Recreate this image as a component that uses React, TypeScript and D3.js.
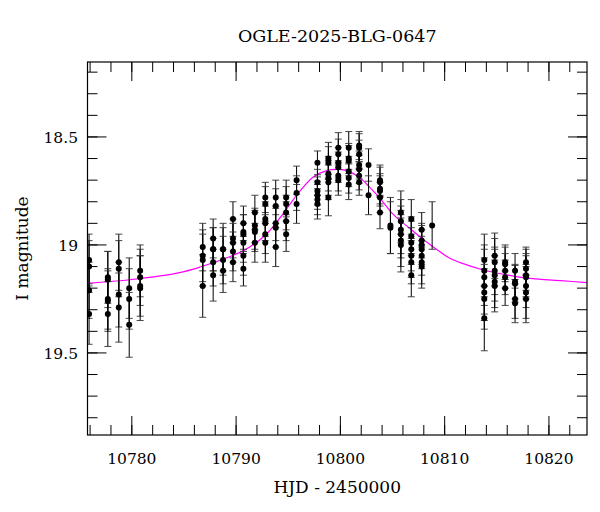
import React from "react";
import * as d3 from "d3";

// nights of observation (HJD - 2450000) and the points taken each night
const nightHJD = [
  10775.9, 10777.7, 10778.75, 10779.75, 10780.8, 10786.8, 10787.8, 10788.75,
  10789.7, 10790.7, 10791.8, 10792.8, 10793.8, 10794.8, 10795.8, 10797.8,
  10798.85, 10799.8, 10800.8, 10801.8, 10802.7, 10803.8, 10804.8, 10805.8,
  10806.8, 10807.8, 10808.8, 10813.8, 10814.8, 10815.8, 10816.75, 10817.8,
];

const nightMag = [
  [19.07, 19.1, 19.21, 19.32],
  [19.15, 19.16, 19.25, 19.26, 19.32],
  [19.08, 19.11, 19.23, 19.29],
  [19.2, 19.25, 19.37],
  [19.12, 19.15, 19.19, 19.2],
  [19.01, 19.05, 19.07, 19.19],
  [18.97, 19.02, 19.02, 19.08, 19.14],
  [19.02, 19.02, 19.07, 19.12],
  [18.88, 18.97, 18.99, 19.03, 19.08],
  [18.9, 18.94, 18.95, 18.99, 19.05, 19.11],
  [18.85, 18.91, 18.93, 18.94, 18.99],
  [18.78, 18.81, 18.88, 18.9, 18.95, 18.99],
  [18.78, 18.82, 18.9, 18.92, 19.01],
  [18.78, 18.81, 18.85, 18.89, 18.95],
  [18.7, 18.76, 18.81],
  [18.62, 18.71, 18.75, 18.77, 18.79, 18.81],
  [18.6, 18.62, 18.67, 18.69, 18.71, 18.78],
  [18.55, 18.58, 18.62, 18.64, 18.68, 18.7],
  [18.55, 18.6, 18.61, 18.66, 18.69, 18.72],
  [18.54, 18.55, 18.58, 18.63, 18.65, 18.68, 18.71],
  [18.63, 18.77],
  [18.7, 18.71, 18.74, 18.75, 18.78, 18.85],
  [18.91, 18.92],
  [18.85, 18.89, 18.93, 18.95, 18.98, 19.0],
  [18.88, 18.96, 18.99, 19.02, 19.05, 19.08, 19.14],
  [18.93, 18.98, 19.0, 19.02, 19.05, 19.08, 19.1],
  [18.91],
  [19.07, 19.12, 19.15, 19.19, 19.22, 19.25, 19.34],
  [19.05, 19.08, 19.12, 19.14, 19.17, 19.19],
  [19.08, 19.09, 19.12, 19.15, 19.2],
  [19.12, 19.17, 19.18, 19.25, 19.27],
  [19.08, 19.11, 19.14, 19.15, 19.19, 19.22, 19.25],
];

const nightErr = [
  [0.12, 0.12, 0.13, 0.14],
  [0.12, 0.13, 0.14, 0.14, 0.15],
  [0.13, 0.13, 0.15, 0.16],
  [0.14, 0.14, 0.15],
  [0.12, 0.13, 0.14, 0.15],
  [0.11, 0.12, 0.12, 0.145],
  [0.09, 0.1, 0.1, 0.11, 0.12],
  [0.12, 0.1, 0.11, 0.1],
  [0.08, 0.09, 0.09, 0.09, 0.09],
  [0.08, 0.08, 0.09, 0.09, 0.09, 0.08],
  [0.08, 0.08, 0.09, 0.09, 0.09],
  [0.07, 0.08, 0.08, 0.08, 0.09, 0.09],
  [0.08, 0.08, 0.08, 0.09, 0.09],
  [0.08, 0.08, 0.08, 0.09, 0.08],
  [0.065, 0.08, 0.09],
  [0.055, 0.06, 0.065, 0.065, 0.07, 0.07],
  [0.075, 0.075, 0.08, 0.08, 0.08, 0.085],
  [0.07, 0.07, 0.07, 0.07, 0.07, 0.07],
  [0.075, 0.07, 0.07, 0.07, 0.07, 0.07],
  [0.065, 0.065, 0.065, 0.065, 0.065, 0.065, 0.06],
  [0.075, 0.09],
  [0.07, 0.07, 0.07, 0.07, 0.07, 0.075],
  [0.13, 0.12],
  [0.1, 0.1, 0.11, 0.11, 0.12, 0.125],
  [0.09, 0.09, 0.1, 0.1, 0.1, 0.1, 0.1],
  [0.08, 0.08, 0.09, 0.09, 0.09, 0.1, 0.1],
  [0.11],
  [0.12, 0.12, 0.13, 0.13, 0.13, 0.14, 0.15],
  [0.105, 0.11, 0.11, 0.12, 0.12, 0.12],
  [0.08, 0.08, 0.08, 0.08, 0.08],
  [0.08, 0.08, 0.085, 0.09, 0.09],
  [0.06, 0.1, 0.1, 0.1, 0.1, 0.12, 0.11],
];

// model light curve
const modelHJD = [
  10775.0, 10780.0, 10784.6, 10786.7, 10788.8, 10790.8, 10792.8, 10794.2,
  10795.8, 10797.4, 10798.7, 10799.7, 10800.6, 10801.9, 10802.9, 10803.8,
  10805.1, 10806.7, 10808.3, 10810.5, 10811.5, 10813.7, 10816.0, 10817.9,
  10821.1, 10824.0,
];
const modelMag = [
  19.18, 19.16, 19.128, 19.1, 19.065, 19.024, 18.955, 18.875, 18.77, 18.685,
  18.656, 18.65, 18.656, 18.69, 18.738, 18.784, 18.86, 18.925, 18.988, 19.062,
  19.082, 19.116, 19.139, 19.154, 19.165, 19.176,
];

const xMajor = [10780, 10790, 10800, 10810, 10820];
const xMinor = d3.range(10776, 10824, 2);
const yMajor = [18.5, 19, 19.5];
const yMinor = d3.range(18.2, 19.85, 0.1);

const title = "OGLE-2025-BLG-0647";
const xLabel = "HJD - 2450000";
const yLabel = "I magnitude";

const W = 600;
const H = 512;
const left = 87.5;
const right = 587;
const top = 62;
const bottom = 435;
const font = "'DejaVu Serif', serif";

const App: React.FC = () => {
  const x = d3.scaleLinear().domain([10775.75, 10823.65]).range([left, right]);
  const y = d3.scaleLinear().domain([18.153, 19.88]).range([top, bottom]);

  const points = nightHJD.flatMap((t, i) =>
    nightMag[i].map((m, j) => ({ t, m, e: nightErr[i][j] }))
  );

  const model = d3
    .line<number>()
    .x((_, i) => x(modelHJD[i]))
    .y((d) => y(d))
    .curve(d3.curveCatmullRom)(modelMag);

  const major = 19;
  const minor = 10;

  return (
    <svg
      width={W}
      height={H}
      style={{ position: "fixed", left: 0, top: 0, background: "#fff" }}
      fontFamily={font}
    >
      <defs>
        <clipPath id="plot">
          <rect x={left} y={top} width={right - left} height={bottom - top} />
        </clipPath>
      </defs>

      <g clipPath="url(#plot)">
        <path d={model ?? ""} fill="none" stroke="#ff00ff" strokeWidth={1.2} />
        {points.map((p, i) => (
          <g key={i}>
            <line
              x1={x(p.t)}
              x2={x(p.t)}
              y1={y(p.m - p.e)}
              y2={y(p.m + p.e)}
              stroke="#000"
              strokeWidth={1}
            />
            <line
              x1={x(p.t) - 3.5}
              x2={x(p.t) + 3.5}
              y1={y(p.m - p.e)}
              y2={y(p.m - p.e)}
              stroke="#333"
              strokeWidth={0.9}
            />
            <line
              x1={x(p.t) - 3.5}
              x2={x(p.t) + 3.5}
              y1={y(p.m + p.e)}
              y2={y(p.m + p.e)}
              stroke="#333"
              strokeWidth={0.9}
            />
          </g>
        ))}
        {points.map((p, i) => (
          <circle key={i} cx={x(p.t)} cy={y(p.m)} r={3} fill="#000" />
        ))}
      </g>

      {/* frame and ticks */}
      <rect
        x={left}
        y={top}
        width={right - left}
        height={bottom - top}
        fill="none"
        stroke="#000"
        strokeWidth={1.2}
      />
      <g stroke="#000" strokeWidth={1}>
        {xMinor.map((t) => (
          <g key={"xm" + t}>
            <line x1={x(t)} x2={x(t)} y1={bottom} y2={bottom - minor} />
            <line x1={x(t)} x2={x(t)} y1={top} y2={top + minor} />
          </g>
        ))}
        {xMajor.map((t) => (
          <g key={"xM" + t}>
            <line x1={x(t)} x2={x(t)} y1={bottom} y2={bottom - major} />
            <line x1={x(t)} x2={x(t)} y1={top} y2={top + major} />
          </g>
        ))}
        {yMinor.map((m) => (
          <g key={"ym" + m.toFixed(1)}>
            <line x1={left} x2={left + minor} y1={y(m)} y2={y(m)} />
            <line x1={right} x2={right - minor} y1={y(m)} y2={y(m)} />
          </g>
        ))}
        {yMajor.map((m) => (
          <g key={"yM" + m}>
            <line x1={left} x2={left + major} y1={y(m)} y2={y(m)} />
            <line x1={right} x2={right - major} y1={y(m)} y2={y(m)} />
          </g>
        ))}
      </g>

      {/* tick labels */}
      <g fontSize={15.5} fill="#000">
        {xMajor.map((t) => (
          <text key={"xl" + t} x={x(t)} y={464} textAnchor="middle">
            {t}
          </text>
        ))}
        {yMajor.map((m) => (
          <text
            key={"yl" + m}
            x={78}
            y={y(m)}
            dy="0.36em"
            textAnchor="end"
          >
            {m}
          </text>
        ))}
      </g>

      <text
        x={(left + right) / 2}
        y={42}
        textAnchor="middle"
        fontSize={17.5}
        fill="#000"
      >
        {title}
      </text>
      <text
        x={(left + right) / 2}
        y={493}
        textAnchor="middle"
        fontSize={17}
        fill="#000"
      >
        {xLabel}
      </text>
      <text
        transform={`translate(28,${(top + bottom) / 2}) rotate(-90)`}
        textAnchor="middle"
        fontSize={17}
        fill="#000"
      >
        {yLabel}
      </text>
    </svg>
  );
};

export default App;
